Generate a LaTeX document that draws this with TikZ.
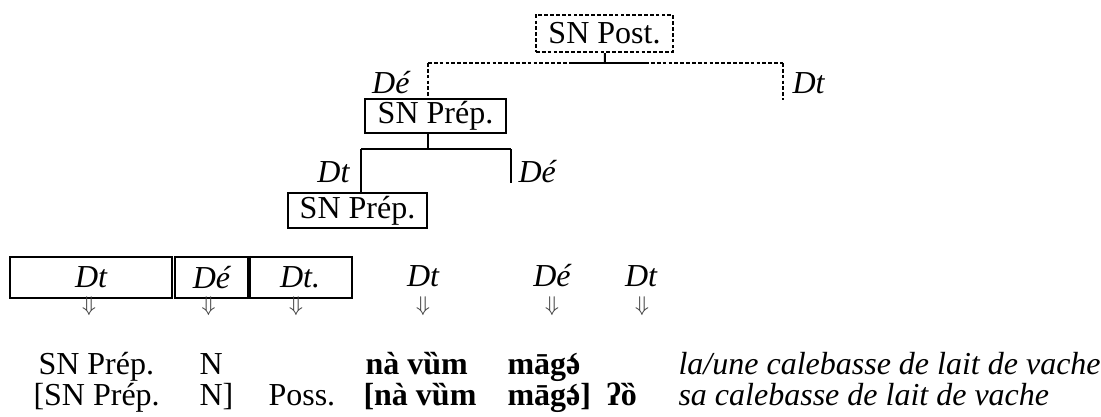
\documentclass[tikz,border=0pt]{standalone}
\usepackage{fontspec}
\setmainfont{Liberation Serif}
\usetikzlibrary{positioning,calc}
\newcommand{\schwag}{\accent"0060 ə}

\begin{document}
\fontsize{12pt}{14.5pt}\selectfont
\begin{tikzpicture}[x=0.375pt, y=-0.375pt,
    catbox/.style = {draw, line width=0.75pt, inner sep=0pt, align=center},
    branch/.style = {line width=0.75pt},
    dotted line/.style = {dash pattern=on 1.4pt off 0.8pt},
    lbl/.style = {font=\itshape, inner sep=0pt},
    cell/.style = {draw, line width=0.8pt, inner sep=0pt,
        minimum height=15.4pt, font=\itshape},
    arr/.style = {inner sep=0pt, font=\fontsize{8.5pt}{9pt}\selectfont, gray!50!black},
    word/.style = {anchor=base west, inner sep=0pt}]

  \useasboundingbox (0,0) rectangle (1101,416);

  % tree
  \node [catbox, dotted line, minimum width=51.4pt, minimum height=13.9pt] (post) at (604.5,33.5) {SN Post.};
  \node [catbox, minimum width=52.9pt, minimum height=12.75pt] (prepA) at (435.5,116) {SN Prép.};
  \node [catbox, minimum width=52.1pt, minimum height=13.1pt] (prepB) at (357.5,210.5) {SN Prép.};

  \coordinate (barA) at (605,63);
  \coordinate (leftA) at (428,63);
  \coordinate (rightA) at (783,63);
  \coordinate (endA) at (783,100);
  \draw[branch] (post) -- (barA);
  \draw[branch, dotted line] (leftA) -- (rightA);
  \draw[branch] ($(barA)+(-32,0)$) -- ($(barA)+(42,0)$);
  \draw[branch, dotted line] (leftA) -- (leftA |- prepA.north);
  \draw[line width=1.1pt, dotted line] (rightA) -- (endA);
  \node [lbl, anchor=east] (deA) at (410,83) {Dé};
  \node [lbl, anchor=west] (dtA) at (792,83) {Dt};

  \coordinate (barB) at (428,149);
  \coordinate (leftB) at (361,149);
  \coordinate (rightB) at (511,149);
  \coordinate (endB) at (511,183);
  \draw[branch] (prepA.south -| barB) -- (barB);
  \draw[branch] (leftB) -- (rightB);
  \draw[branch] (leftB) -- (leftB |- prepB.north);
  \draw[branch] (rightB) -- (endB);
  \node [lbl, anchor=east] (dtB) at (350,172) {Dt};
  \node [lbl, anchor=west] (deB) at (518,172) {Dé};

  % table of functions
  \node [cell, minimum width=60.6pt] (cA) at (91,277.5) {Dt};
  \node [cell, minimum width=27.4pt] (cB) at (211.5,277.5) {Dé};
  \node [cell, minimum width=39pt] (cC) at (300,277.5) {Dt.};
  \draw[line width=1.3pt] (cB.north east) -- (cB.south east);
  \node [lbl] (dtD) at (423,276) {Dt};
  \node [lbl] (deE) at (552,276) {Dé};
  \node [lbl] (dtF) at (641,276) {Dt};

  \coordinate (arrline) at (0,306);
  \foreach \n/\dx in {cA/-2, cB/-3, cC/-4, dtD/0, deE/0, dtF/1}
    \node [arr] (arr-\n) at ($(\n |- arrline)+(\dx,0)$) {$\Downarrow$};

  % glosses
  \node [word] (r1a) at (38,374) {SN Prép.};
  \node [word] (r1b) at (199,374) {N};
  \node [word] (r1c) at (365,374) {\textbf{nà vȕm}};
  \node [word] (r1d) at (507,374) {\textbf{māg\schwag}};
  \node [word] (r1e) at (678,374) {\textit{la/une calebasse de lait de vache}};

  \node [word] (r2a) at (33,405) {[SN Prép.};
  \node [word] (r2b) at (199,405) {N]};
  \node [word] (r2c) at (268,405) {Poss.};
  \node [word] (r2d) at (363,405) {\textbf{[nà vȕm}};
  \node [word] (r2e) at (507,405) {\textbf{māg\schwag]}};
  \node [word] (r2f) at (606,405) {\textbf{ʔȍ}};
  \node [word] (r2g) at (678,405) {\textit{sa calebasse de lait de vache}};
\end{tikzpicture}
\end{document}
